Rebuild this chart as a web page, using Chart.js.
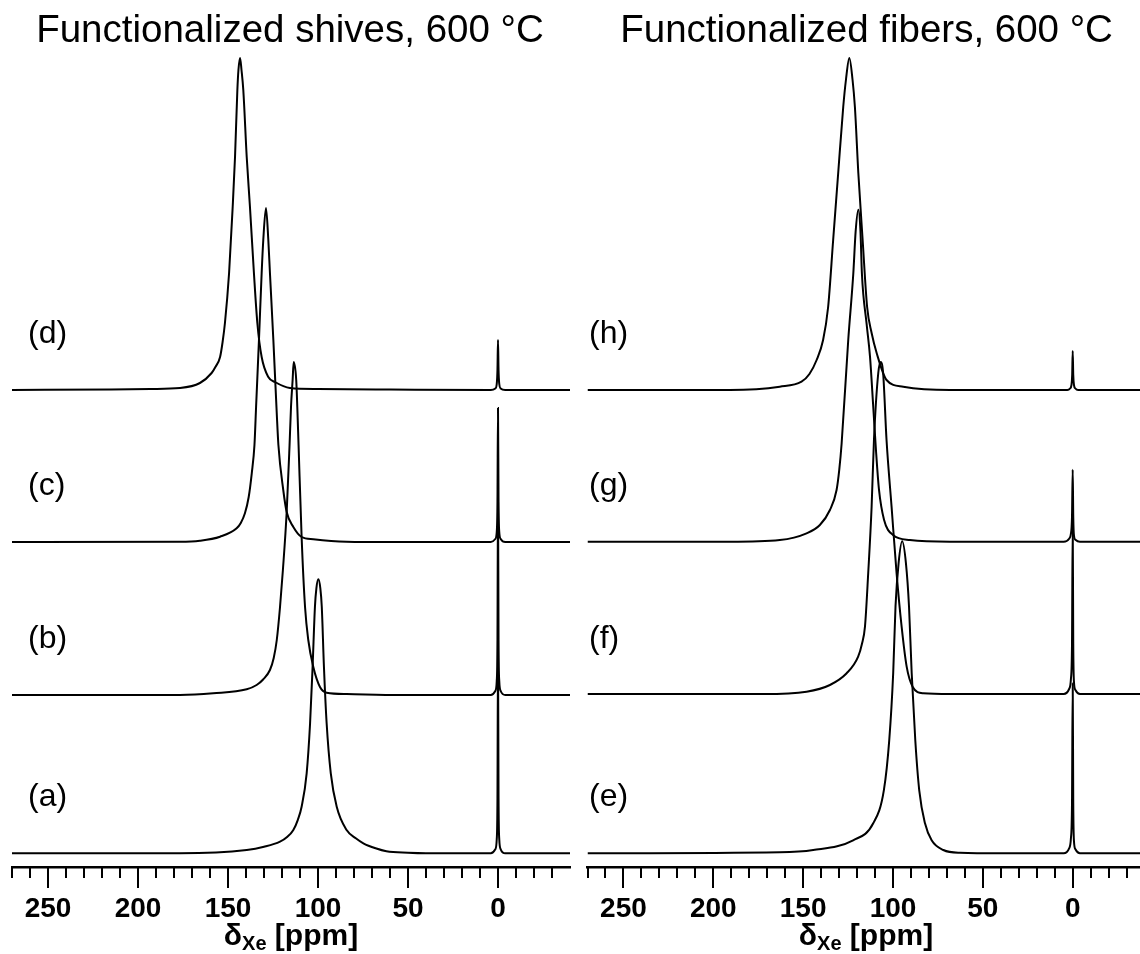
<!DOCTYPE html>
<html>
<head>
<meta charset="utf-8">
<script src="https://cdn.jsdelivr.net/npm/chart.js@4.4.0/dist/chart.umd.min.js"></script>
<style>
  html, body { margin: 0; padding: 0; background: #fff; width: 1140px; height: 954px; overflow: hidden; }
  .panel { position: absolute; top: 0; height: 954px; }
  .panel canvas { position: absolute; left: 0; top: 0; }
  .txt { position: absolute; white-space: nowrap; line-height: 1; color: #000;
         font-family: 'Liberation Sans', Arial, Helvetica, sans-serif; }
  .title { font-size: 38.5px; transform: translateX(-50%); }
  .lab { font-size: 32px; }
  .xt { font-size: 30px; font-weight: bold; transform: translateX(-50%); }
  .xt sub { font-size: 20px; vertical-align: -5px; line-height: 0; }
</style>
</head>
<body>

<div class="panel" style="left:0;width:580px;"><canvas id="shives" width="580" height="954"></canvas></div>
<div class="panel" style="left:570px;width:580px;"><canvas id="fibers" width="580" height="954"></canvas></div>

<div class="txt title" style="left:290px;top:10.4px;">Functionalized shives, 600 °C</div>
<div class="txt title" style="left:866.6px;top:10.4px;">Functionalized fibers, 600 °C</div>

<div class="txt lab" style="left:28px;top:316px;">(d)</div>
<div class="txt lab" style="left:28px;top:468px;">(c)</div>
<div class="txt lab" style="left:28px;top:621px;">(b)</div>
<div class="txt lab" style="left:28px;top:779px;">(a)</div>
<div class="txt lab" style="left:589px;top:316px;">(h)</div>
<div class="txt lab" style="left:589px;top:468px;">(g)</div>
<div class="txt lab" style="left:589px;top:621px;">(f)</div>
<div class="txt lab" style="left:589px;top:779px;">(e)</div>

<div class="txt xt" style="left:291px;top:919.6px;">δ<sub>Xe</sub> [ppm]</div>
<div class="txt xt" style="left:866px;top:919.6px;">δ<sub>Xe</sub> [ppm]</div>

<script>
// 129Xe NMR spectra: [chemical shift (ppm), intensity (a.u.)], listed from high to low shift.
// Shives series (a)-(d)
const shivesA = [[270,0],[176.7,0],[139.6,3.3],[130,6.5],[121.1,11.6],[117,16.5],[113.7,23.3],[111.2,33.5],[109.1,46.6],[106.3,80],[104.4,130],[103,186.6],[101.7,246.6],[100.9,265],[99.8,274],[98.7,265],[97.9,246.6],[96.7,186.6],[95.2,130],[92.9,80],[89.6,46.6],[84.1,23.3],[79,15],[74.8,10],[68,5],[62,2],[50,0.5],[40,0],[4,0],[1.5,4],[0.7,14],[0.3,55],[0,200],[-0.3,55],[-0.7,14],[-1.5,4],[-4,0],[-40,0]];
const shivesB = [[270,0],[176.7,0],[158.2,1.7],[139.6,5.7],[134.1,10],[130.5,15.5],[126.7,25],[124.6,37],[122.9,55],[121.1,88],[119.5,125],[117.4,183],[115.8,250],[115,288],[114.1,315],[113.5,333],[112.1,315],[111.5,288],[110.8,250],[109.1,158],[107.2,88],[105.4,55],[102.6,28],[98.9,8],[95.2,2.3],[84.1,1],[54.4,0],[4,0],[1.5,4],[0.7,14],[0.3,55],[0,200],[-0.3,55],[-0.7,14],[-1.5,4],[-4,0],[-40,0]];
const shivesC = [[270,0],[176.7,0.3],[165.6,1.3],[154.4,5.3],[145.2,13.7],[142.9,19],[140.6,28.7],[138.5,45],[136.8,68.7],[135.3,97],[134.4,135],[132.8,202],[131.3,269],[130.4,302],[128.9,334],[127.6,302],[126.7,269],[124.8,202],[122.9,128],[122,97],[119.3,52],[117.4,30],[113.7,15],[109.1,5],[102.6,2.7],[84.1,0.3],[60,0],[4,0],[1.5,3],[0.7,10],[0.3,40],[0,134],[-0.3,40],[-0.7,10],[-1.5,3],[-4,0],[-40,0]];
const shivesD = [[270,0],[215,0.5],[193,1],[176.7,2],[165.6,7],[159.1,17],[157,23],[154.4,33],[153,48],[151.7,67],[149.4,117],[147.4,183],[146.1,233],[144.8,300],[144.2,320],[143.3,332],[142.5,320],[141.5,300],[139.6,233],[137.8,183],[135.6,117],[133.7,67],[131.3,33],[127.6,13],[123.9,8],[115.6,2],[100,1],[60,0.5],[4,0],[1.5,1.5],[0.7,6],[0.3,20],[0,50],[-0.3,20],[-0.7,6],[-1.5,1.5],[-4,0],[-40,0]];

// Fibers series (e)-(h)
const fibersE = [[270,0],[163,1],[144.4,3.3],[122.2,13],[111,30],[105.1,63],[102.1,113],[99.9,180],[98.6,247],[96.9,290],[94.9,312],[92.8,290],[91.1,247],[89.6,180],[87.6,113],[85.4,63],[82.2,30],[78.5,13],[72,3.3],[62.7,0.5],[40,0],[5,0],[2,5],[1,15],[0.4,50],[0,170],[-0.3,50],[-0.7,12],[-1.5,4],[-4,0],[-40,0]];
const fibersF = [[270,0],[172.3,0],[148.1,2.3],[135.1,9],[125.8,20.7],[119.4,37.3],[117.3,50],[115.6,67.3],[113.8,120.7],[111.9,187.3],[110.6,254],[108.2,321],[106.9,332],[105.5,321],[103.6,254],[100.8,187.3],[98,120.7],[95.2,67.3],[92.4,27.3],[89.1,7.3],[83.2,0.7],[68.3,0],[5,0],[2,5],[1,15],[0.4,50],[0,170],[-0.3,50],[-0.7,12],[-1.5,4],[-4,0],[-40,0]];
const fibersG = [[270,0],[190.8,0],[163,1.7],[148.1,8.4],[140.7,16.7],[135.1,31.7],[131.4,51.7],[129.9,72],[128.6,98],[124.9,202],[122.1,268],[120.8,310],[119.3,332],[118.1,310],[117.3,268],[114.7,218],[112.8,185],[111,135],[109.5,92],[107.8,52],[105,22],[100,6.7],[90.6,1.7],[68.3,0],[5,0],[2,3],[1,8],[0.4,25],[0,72],[-0.3,25],[-0.7,6],[-1.5,2],[-4,0],[-40,0]];
const fibersH = [[270,0],[190.7,0],[163,3.3],[150.9,8.3],[146.5,16],[142.5,30],[138.9,50],[136.1,83],[133.3,150],[130.5,217],[127.7,283],[126.2,310],[124.3,332],[122.5,310],[121.2,283],[119.3,217],[116.9,150],[114.4,83],[111.9,57],[109.1,37],[103.6,10],[94.3,3.3],[68.3,0],[3,0],[1.5,1.5],[0.7,5],[0.3,15],[0,39],[-0.3,15],[-0.7,5],[-1.5,1.5],[-3,0],[-40,0]];

// Vertical stacking of the traces (bottom to top), same intensity units
const shivesOffsets = [13.7, 172, 325, 477];
const fibersOffsets = [13.7, 173, 325.3, 477];

// Axis: shift range and ticks
const shiftMin = -40;
const shiftMax = 270;
const minorStep = 10;
const majorStep = 50;

function toPoints(trace, offset) {
  return trace.map(([ppm, y]) => ({ x: ppm, y: y + offset }));
}

// Tick marks below the axis line: long at labelled values, short in between
const tickMarks = {
  id: 'tickMarks',
  afterDraw(chart) {
    const s = chart.scales.x, ctx = chart.ctx;
    ctx.save();
    ctx.strokeStyle = '#000';
    ctx.lineWidth = 2;
    for (const t of s.ticks) {
      if (t.value === shiftMin) continue;
      const len = t.value % majorStep === 0 ? 21 : 11;
      const px = Math.round(s.getPixelForValue(t.value));
      ctx.beginPath();
      ctx.moveTo(px, s.top);
      ctx.lineTo(px, s.top + len);
      ctx.stroke();
    }
    ctx.restore();
  }
};

function makeChart(id, traces, offsets, padLeft, padRight) {
  const datasets = traces.map((tr, i) => ({
    data: toPoints(tr, offsets[i]),
    borderColor: '#000',
    borderWidth: 2,
    pointRadius: 0,
    fill: false,
    cubicInterpolationMode: 'monotone'
  }));
  return new Chart(document.getElementById(id), {
    type: 'line',
    data: { datasets },
    options: {
      responsive: false,
      animation: false,
      events: [],
      layout: { padding: { left: padLeft, right: padRight, top: 40, bottom: 0 } },
      plugins: { legend: { display: false }, tooltip: { enabled: false }, title: { display: false } },
      scales: {
        x: {
          type: 'linear',
          reverse: true,
          min: shiftMin,
          max: shiftMax,
          afterFit(scale) { scale.height = 87; },
          border: { display: true, color: '#000', width: 2.5 },
          grid: {
            display: true,
            drawOnChartArea: false,
            drawTicks: true,
            tickLength: 21,
            color: 'rgba(0,0,0,0)'
          },
          ticks: {
            stepSize: minorStep,
            autoSkip: false,
            maxRotation: 0,
            padding: 4,
            color: '#000',
            font: { family: "'Liberation Sans', Arial, sans-serif", size: 28, weight: 'bold' },
            callback: (v) => (v % majorStep === 0 ? String(v) : '')
          }
        },
        y: { display: false, min: 0, max: 827 }
      }
    },
    plugins: [tickMarks]
  });
}

makeChart('shives', [shivesA, shivesB, shivesC, shivesD], shivesOffsets, 12, 10);
makeChart('fibers', [fibersE, fibersF, fibersG, fibersH], fibersOffsets, 17.5, 5.4);
</script>
</body>
</html>
